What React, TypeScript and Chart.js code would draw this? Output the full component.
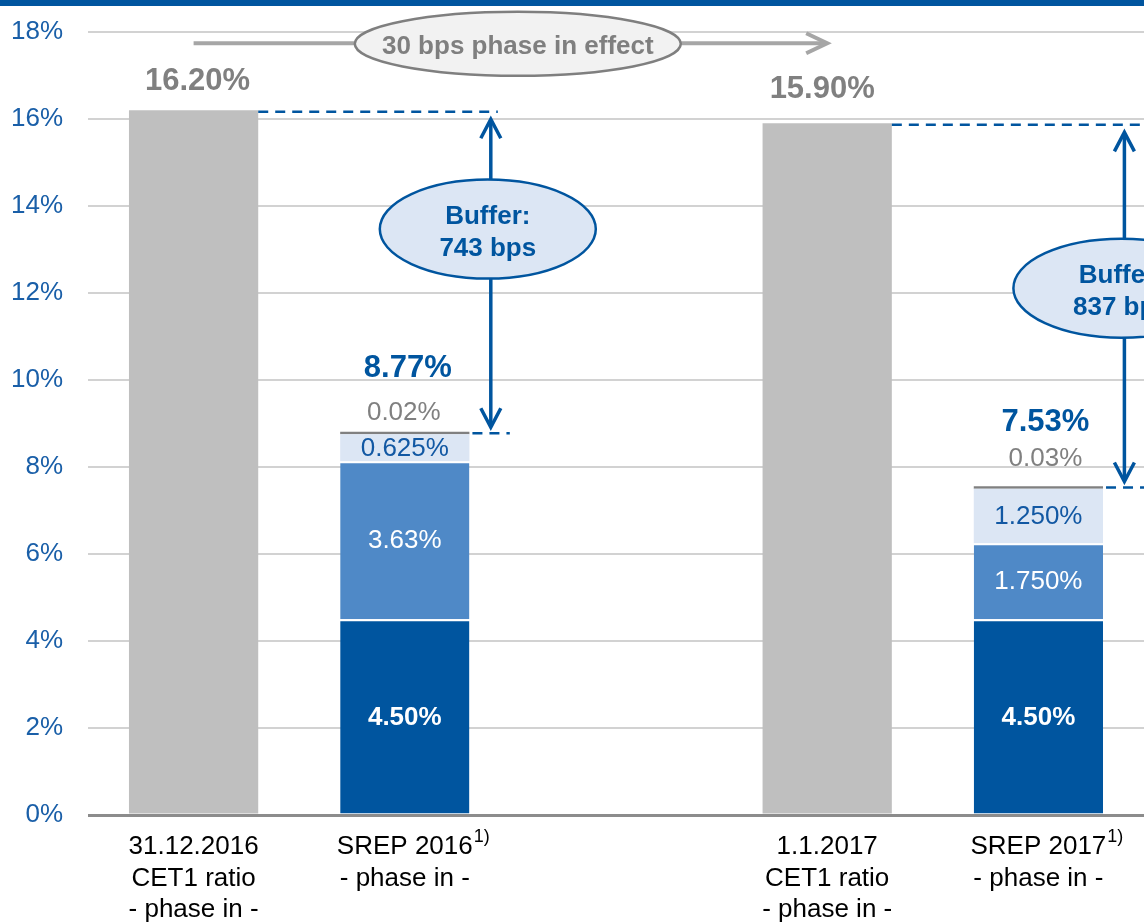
import React, { useEffect, useRef } from "react";
import { Chart, registerables } from "chart.js";

Chart.register(...registerables);

// ---------- data ----------
const categories: (string | string[])[] = [
  ["31.12.2016", "CET1 ratio", "- phase in -"],
  ["SREP 2016", "- phase in -"],
  "",
  ["1.1.2017", "CET1 ratio", "- phase in -"],
  ["SREP 2017", "- phase in -"],
];
const footnoteMarks = ["", "1)", "", "", "1)"];

const cet1Ratio = [16.2, null, null, 15.9, null];
const pillar1Minimum = [null, 4.5, null, null, 4.5];
const pillar2Requirement = [null, 3.63, null, null, 1.75];
const conservationBuffer = [null, 0.625, null, null, 1.25];
const otherBuffers = [null, 0.02, null, null, 0.03];

const cet1Labels = ["16.20%", "", "", "15.90%", ""];
const pillar1Labels = ["", "4.50%", "", "", "4.50%"];
const pillar2Labels = ["", "3.63%", "", "", "1.750%"];
const conservationLabels = ["", "0.625%", "", "", "1.250%"];
const otherLabels = ["", "0.02%", "", "", "0.03%"];
const requirementTotalLabels = ["", "8.77%", "", "", "7.53%"];

const yMin = 0;
const yMax = 18;
const yStep = 2;

// buffer annotations: from CET1 bar to SREP bar
const bufferFrom = [0, 3];
const bufferTo = [1, 4];
const bufferTitle = ["Buffer:", "Buffer:"];
const bufferBps = ["743 bps", "837 bps"];
const bufferEllipseLevel = [13.47, 12.11];

// phase-in annotation
const phaseInText = "30 bps phase in effect";
const phaseInFrom = 0;
const phaseInTo = 3;
const phaseInLevel = 17.74;
const phaseInEllipseAt = 1.535;

// ---------- style ----------
const FONT = '"Liberation Sans", Arial, Helvetica, sans-serif';
const DARK_BLUE = "#00559F";
const MID_BLUE = "#4F89C7";
const LIGHT_BLUE = "#DCE6F4";
const BAR_GREY = "#BFBFBF";
const TEXT_GREY = "#808080";
const TICK_BLUE = "#1A5FA8";

function sumAt(i: number): number {
  return (
    (pillar1Minimum[i] || 0) +
    (pillar2Requirement[i] || 0) +
    (conservationBuffer[i] || 0) +
    (otherBuffers[i] || 0)
  );
}

function drawHead(
  ctx: CanvasRenderingContext2D,
  tx: number,
  ty: number,
  dx: number,
  dy: number,
  len: number,
  half: number
) {
  const bx = tx - dx * len;
  const by = ty - dy * len;
  const px = -dy;
  const py = dx;
  ctx.beginPath();
  ctx.moveTo(bx + px * half, by + py * half);
  ctx.lineTo(tx, ty);
  ctx.lineTo(bx - px * half, by - py * half);
  ctx.stroke();
}

const annotationPlugin = {
  id: "slideAnnotations",
  afterDraw(chart: any) {
    const ctx: CanvasRenderingContext2D = chart.ctx;
    const xs = chart.scales.x;
    const ys = chart.scales.y;
    ctx.save();

    // top stripe
    ctx.fillStyle = DARK_BLUE;
    ctx.fillRect(0, 0, chart.width, 6);

    // segment labels
    const segs = [
      { di: 1, labels: pillar1Labels, color: "#FFFFFF", bold: true },
      { di: 2, labels: pillar2Labels, color: "#FFFFFF", bold: false },
      { di: 3, labels: conservationLabels, color: "#1258A3", bold: false },
    ];
    ctx.textAlign = "center";
    ctx.textBaseline = "middle";
    segs.forEach((s) => {
      const meta = chart.getDatasetMeta(s.di);
      s.labels.forEach((lab, i) => {
        if (!lab) return;
        const el = meta.data[i];
        ctx.font = `${s.bold ? "bold " : ""}26px ${FONT}`;
        ctx.fillStyle = s.color;
        ctx.fillText(lab, el.x, (el.y + el.base) / 2 + 1);
      });
    });

    // CET1 labels
    ctx.textBaseline = "alphabetic";
    const cetMeta = chart.getDatasetMeta(0);
    cet1Labels.forEach((lab, i) => {
      if (!lab) return;
      const el = cetMeta.data[i];
      ctx.font = `bold 31px ${FONT}`;
      ctx.fillStyle = TEXT_GREY;
      ctx.fillText(lab, el.x + (i === 0 ? 4 : -5), el.y - (i === 0 ? 20 : 25));
    });

    // totals & small labels
    const p1Meta = chart.getDatasetMeta(1);
    requirementTotalLabels.forEach((lab, i) => {
      if (!lab) return;
      const x = p1Meta.data[i].x;
      const top = ys.getPixelForValue(sumAt(i));
      ctx.font = `bold 31px ${FONT}`;
      ctx.fillStyle = DARK_BLUE;
      ctx.fillText(lab, x + (i === 1 ? 3 : 7), top - 56);
      ctx.font = `26px ${FONT}`;
      ctx.fillStyle = TEXT_GREY;
      ctx.fillText(otherLabels[i], x + (i === 1 ? -1 : 7), top - (i === 1 ? 13 : 21));
    });

    // superscript footnote marks
    footnoteMarks.forEach((m, i) => {
      if (!m) return;
      const lab = categories[i];
      const first = Array.isArray(lab) ? lab[0] : lab;
      ctx.font = `26px ${FONT}`;
      const w = ctx.measureText(first).width;
      const x = xs.getPixelForTick(i) + w / 2 + 1;
      ctx.font = `18px ${FONT}`;
      ctx.fillStyle = "#000000";
      ctx.textAlign = "left";
      ctx.fillText(m, x, xs.top + 27);
      ctx.textAlign = "center";
    });

    // phase-in arrow
    {
      const x0 = xs.getPixelForValue(phaseInFrom);
      const x1 = xs.getPixelForValue(phaseInTo);
      const y = ys.getPixelForValue(phaseInLevel);
      ctx.strokeStyle = "#A6A6A6";
      ctx.lineWidth = 4;
      ctx.lineCap = "butt";
      ctx.beginPath();
      ctx.moveTo(x0, y);
      ctx.lineTo(x1 - 2, y);
      ctx.stroke();
      ctx.lineJoin = "miter";
      drawHead(ctx, x1, y, 1, 0, 21, 10);
      const cx = xs.getPixelForValue(phaseInEllipseAt);
      ctx.beginPath();
      ctx.ellipse(cx, y + 0.5, 163, 32, 0, 0, Math.PI * 2);
      ctx.fillStyle = "#F2F2F2";
      ctx.fill();
      ctx.lineWidth = 2.5;
      ctx.strokeStyle = "#7F7F7F";
      ctx.stroke();
      ctx.font = `bold 26px ${FONT}`;
      ctx.fillStyle = "#7F7F7F";
      ctx.textAlign = "center";
      ctx.textBaseline = "alphabetic";
      ctx.fillText(phaseInText, cx, y + 10.5);
    }

    // buffer arrows
    bufferFrom.forEach((fromIdx, k) => {
      const toIdx = bufferTo[k];
      const refEl = cetMeta.data[fromIdx];
      const srepEl = p1Meta.data[toIdx];
      const yUp = ys.getPixelForValue(cet1Ratio[fromIdx] as number);
      const yLow = ys.getPixelForValue(sumAt(toIdx));
      const ax = srepEl.x + 86;
      const refRight = refEl.x + refEl.width / 2;
      const srepRight = srepEl.x + srepEl.width / 2;

      ctx.strokeStyle = DARK_BLUE;
      ctx.lineWidth = 2.5;
      ctx.setLineDash([10, 7]);
      ctx.beginPath();
      ctx.moveTo(refRight, yUp + 1.5);
      ctx.lineTo(ax + (k === 0 ? 7 : 40), yUp + 1.5);
      ctx.stroke();
      ctx.beginPath();
      ctx.moveTo(srepRight + 3, yLow);
      ctx.lineTo(ax + (k === 0 ? 19 : 40), yLow);
      ctx.stroke();
      ctx.setLineDash([]);

      ctx.lineWidth = 3.5;
      const tipUp = yUp + 9;
      const tipLow = yLow - 6;
      ctx.beginPath();
      ctx.moveTo(ax, tipUp + 1);
      ctx.lineTo(ax, tipLow - 1);
      ctx.stroke();
      drawHead(ctx, ax, tipUp, 0, -1, 19, 10);
      drawHead(ctx, ax, tipLow, 0, 1, 19, 10);

      const cx = ax - 3;
      const cy = ys.getPixelForValue(bufferEllipseLevel[k]);
      ctx.beginPath();
      ctx.ellipse(cx, cy, 108, 49.5, 0, 0, Math.PI * 2);
      ctx.fillStyle = LIGHT_BLUE;
      ctx.fill();
      ctx.lineWidth = 2.5;
      ctx.strokeStyle = DARK_BLUE;
      ctx.stroke();
      ctx.font = `bold 26px ${FONT}`;
      ctx.fillStyle = DARK_BLUE;
      ctx.textAlign = "center";
      ctx.textBaseline = "alphabetic";
      ctx.fillText(bufferTitle[k], cx, cy - 5);
      ctx.fillText(bufferBps[k], cx, cy + 27);
    });

    ctx.restore();
  },
};

export default function App() {
  const canvasRef = useRef<HTMLCanvasElement | null>(null);

  useEffect(() => {
    if (!canvasRef.current) return;
    const topWhite = { top: 2, left: 0, right: 0, bottom: 0 };
    const chart = new Chart(canvasRef.current, {
      type: "bar",
      data: {
        labels: categories as any,
        datasets: [
          { label: "CET1 ratio", data: cet1Ratio as any, backgroundColor: BAR_GREY, borderWidth: 0 },
          { label: "Pillar 1", data: pillar1Minimum as any, backgroundColor: DARK_BLUE, borderColor: "#FFFFFF", borderWidth: topWhite as any },
          { label: "Pillar 2", data: pillar2Requirement as any, backgroundColor: MID_BLUE, borderColor: "#FFFFFF", borderWidth: topWhite as any },
          { label: "Conservation buffer", data: conservationBuffer as any, backgroundColor: LIGHT_BLUE, borderWidth: 0 },
          { label: "Other buffers", data: otherBuffers as any, backgroundColor: "#808080", borderWidth: 0, minBarLength: 2.5 },
        ],
      },
      options: {
        animation: false,
        responsive: true,
        maintainAspectRatio: false,
        devicePixelRatio: 1,
        datasets: { bar: { categoryPercentage: 1, barPercentage: 0.612 } },
        layout: { padding: { top: 32, right: 0, bottom: 0, left: 0 } },
        plugins: {
          legend: { display: false },
          tooltip: { enabled: false },
          title: { display: false },
        },
        scales: {
          x: {
            stacked: true,
            grid: { display: false, drawTicks: false },
            border: { display: false },
            ticks: {
              color: "#000000",
              font: { family: FONT, size: 26, lineHeight: 1.22 },
              padding: 16,
              maxRotation: 0,
              autoSkip: false,
            },
            afterFit: (s: any) => {
              s.height = 108;
            },
          },
          y: {
            stacked: true,
            min: yMin,
            max: yMax,
            ticks: {
              stepSize: yStep,
              callback: (v: any) => `${v}%`,
              color: TICK_BLUE,
              font: { family: FONT, size: 26 },
              padding: 25,
            },
            grid: {
              color: (c: any) => (c.tick && c.tick.value === 0 ? "#8C8C8C" : "#D2D2D2"),
              lineWidth: (c: any) => (c.tick && c.tick.value === 0 ? 3 : 2),
              drawTicks: false,
            },
            border: { display: false },
            afterFit: (s: any) => {
              s.width = 88;
              s.paddingTop = 16;
              s.paddingBottom = 16;
            },
          },
        },
      } as any,
      plugins: [annotationPlugin],
    });
    return () => chart.destroy();
  }, []);

  return (
    <div
      style={{
        position: "fixed",
        left: 0,
        top: 0,
        width: 1144,
        height: 923,
        background: "#FFFFFF",
      }}
    >
      <canvas ref={canvasRef} />
    </div>
  );
}
